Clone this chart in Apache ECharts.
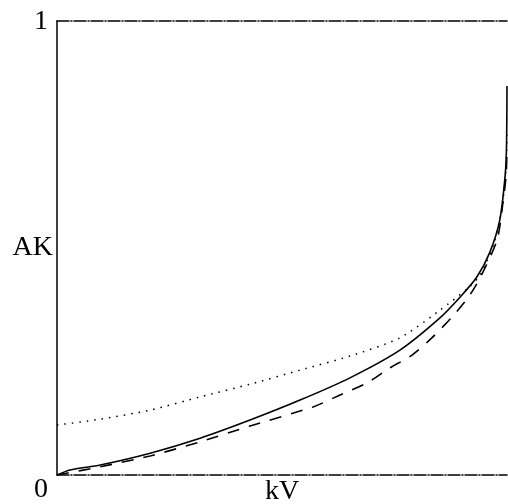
<!DOCTYPE html>
<html>
<head>
<meta charset="utf-8">
<script src="https://cdn.jsdelivr.net/npm/echarts@6/dist/echarts.min.js"></script>
<style>
  html, body { margin: 0; padding: 0; background: #fff; }
  #chart { width: 508px; height: 504px; }
</style>
</head>
<body>
<div id="chart"></div>
<script>
// kV values (fraction of full scale) and AK readings per curve
const solidX = [0, 0.029, 0.096, 0.207, 0.318, 0.429, 0.54, 0.651, 0.762, 0.851, 0.896, 0.933, 0.962, 0.984, 0.996, 0.999, 1];
const solidY = [0, 0.011, 0.022, 0.048, 0.081, 0.121, 0.165, 0.214, 0.275, 0.346, 0.392, 0.436, 0.491, 0.562, 0.661, 0.727, 0.857];

const dashedX = [0, 0.096, 0.207, 0.318, 0.429, 0.569, 0.633, 0.689, 0.74, 0.789, 0.833, 0.876, 0.913, 0.94, 0.978, 0.991, 0.998, 1];
const dashedY = [0, 0.018, 0.042, 0.073, 0.108, 0.15, 0.178, 0.203, 0.236, 0.264, 0.302, 0.346, 0.39, 0.434, 0.518, 0.6, 0.66, 0.72];

const dottedX = [0, 0.096, 0.207, 0.318, 0.429, 0.54, 0.651, 0.762, 0.851, 0.916, 0.94, 0.971, 0.989, 0.998, 1];
const dottedY = [0.11, 0.123, 0.143, 0.172, 0.2, 0.231, 0.262, 0.302, 0.363, 0.414, 0.44, 0.51, 0.59, 0.68, 0.76];

const yTicks = ["0", "1"];
const xName = "kV";
const yName = "AK";

const font = "Liberation Serif";
const dashDot = [12, 2, 1, 2];

function pairs(xs, ys) {
  return xs.map((x, i) => [x, ys[i]]);
}

const chart = echarts.init(document.getElementById("chart"));

chart.setOption({
  animation: false,
  grid: { left: 57, right: 1, top: 21, bottom: 29, outerBoundsMode: "none", containLabel: false },
  xAxis: [
    {
      type: "value",
      min: 0,
      max: 1,
      position: "bottom",
      name: xName,
      nameLocation: "middle",
      nameGap: 3,
      nameMoveOverlap: false,
      nameTextStyle: { fontFamily: font, fontSize: 28, color: "#000", verticalAlign: "top" },
      axisLine: { show: true, lineStyle: { color: "#000", width: 1.5, type: dashDot } },
      axisTick: { show: false },
      axisLabel: { show: false },
      splitLine: { show: false },
    },
    {
      type: "value",
      min: 0,
      max: 1,
      position: "top",
      axisLine: { show: true, lineStyle: { color: "#000", width: 1.5, type: dashDot } },
      axisTick: { show: false },
      axisLabel: { show: false },
      splitLine: { show: false },
    },
  ],
  yAxis: {
    type: "value",
    min: 0,
    max: 1,
    interval: 1,
    name: yName,
    nameLocation: "middle",
    nameRotate: 0,
    nameGap: 4,
    nameMoveOverlap: false,
    nameTextStyle: { fontFamily: font, fontSize: 28, color: "#000", align: "right" },
    axisLine: { show: true, lineStyle: { color: "#000", width: 1.5 } },
    axisTick: { show: false },
    splitLine: { show: false },
    axisLabel: {
      margin: 9,
      formatter: (v) => (v === 0 ? "{lo|" + yTicks[0] + "}" : "{hi|" + yTicks[1] + "}"),
      rich: {
        lo: { fontFamily: font, fontSize: 28, color: "#000", padding: [30, 0, 0, 0] },
        hi: { fontFamily: font, fontSize: 28, color: "#000", padding: [2, 0, 0, 0] },
      },
    },
  },
  series: [
    {
      type: "line",
      data: pairs(solidX, solidY),
      symbol: "none",
      smooth: 0.25,
      lineStyle: { color: "#000", width: 1.6, type: "solid" },
    },
    {
      type: "line",
      data: pairs(dashedX, dashedY),
      symbol: "none",
      smooth: 0.25,
      lineStyle: { color: "#000", width: 1.6, type: [12, 10] },
    },
    {
      type: "line",
      data: pairs(dottedX, dottedY),
      symbol: "none",
      smooth: 0.25,
      lineStyle: { color: "#000", width: 1.5, type: [1.5, 6] },
    },
  ],
});
</script>
</body>
</html>
